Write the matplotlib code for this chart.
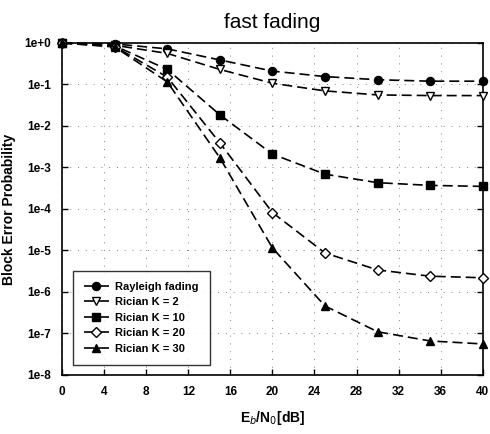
import matplotlib
matplotlib.use("Agg")
import matplotlib.pyplot as plt
import numpy as np

# data
snr_db = [0, 5, 10, 15, 20, 25, 30, 35, 40]
rayleigh = [1.0, 0.95, 0.72, 0.39, 0.21, 0.155, 0.13, 0.12, 0.12]
rician_k2 = [1.0, 0.88, 0.56, 0.23, 0.107, 0.07, 0.056, 0.054, 0.054]
rician_k10 = [1.0, 0.85, 0.23, 0.0185, 2.1e-3, 6.9e-4, 4.3e-4, 3.7e-4, 3.5e-4]
rician_k20 = [1.0, 0.82, 0.15, 3.9e-3, 8.2e-5, 8.7e-6, 3.4e-6, 2.4e-6, 2.2e-6]
rician_k30 = [1.0, 0.80, 0.115, 1.7e-3, 1.15e-5, 4.6e-7, 1.1e-7, 6.6e-8, 5.6e-8]

series_names = ["Rayleigh fading", "Rician K = 2", "Rician K = 10",
                "Rician K = 20", "Rician K = 30"]
x_ticks = [0, 4, 8, 12, 16, 20, 24, 28, 32, 36, 40]
y_ticks = [1e0, 1e-1, 1e-2, 1e-3, 1e-4, 1e-5, 1e-6, 1e-7, 1e-8]
y_tick_labels = ["1e+0", "1e-1", "1e-2", "1e-3", "1e-4",
                 "1e-5", "1e-6", "1e-7", "1e-8"]

plt.rcParams["font.family"] = ["Liberation Sans", "DejaVu Sans"]

fig = plt.figure(figsize=(4.9, 4.34), dpi=100)
ax = fig.add_axes([0.127, 0.136, 0.858, 0.765])

styles = [("o", "black"), ("v", "white"), ("s", "black"), ("D", "white"), ("^", "black")]
sizes = [5.8, 6, 5.5, 5.2, 6]
all_series = [rayleigh, rician_k2, rician_k10, rician_k20, rician_k30]
for vals, name, (mk, face), ms in zip(all_series, series_names, styles, sizes):
    ax.plot(snr_db, vals, color="black", linestyle=(0, (6, 3)), linewidth=1.2,
            marker=mk, markersize=ms, markerfacecolor=face,
            markeredgecolor="black", markeredgewidth=1.0, label=name,
            clip_on=False, zorder=3)

ax.set_yscale("log")
ax.set_xlim(0, 40)
ax.set_ylim(1e-8, 1e0)
ax.set_xticks(x_ticks)
ax.set_xticklabels([str(t) for t in x_ticks])
ax.set_yticks(y_ticks)
ax.set_yticklabels(y_tick_labels)
ax.minorticks_off()
ax.tick_params(direction="in", length=4, width=1, right=True, top=False,
               labelsize=8.5, pad=8)
for lbl in ax.get_xticklabels() + ax.get_yticklabels():
    lbl.set_fontweight("bold")
ax.grid(True, linestyle=(0, (1, 7)), color="0.5", linewidth=0.7)
for sp in ax.spines.values():
    sp.set_linewidth(1.2)

ax.set_title("fast fading", fontsize=15, pad=11)
ax.set_xlabel("E$_b$/N$_0$[dB]", fontsize=10, fontweight="bold", labelpad=8)
ax.set_ylabel("Block Error Probability", fontsize=10, fontweight="bold", labelpad=6)

leg = ax.legend(loc="lower left", bbox_to_anchor=(0.026, 0.03), borderaxespad=0,
                frameon=True, fancybox=False, edgecolor="black",
                handlelength=2.2, handletextpad=0.6, borderpad=1.0,
                labelspacing=0.5, prop={"weight": "bold", "size": 8})
leg.get_frame().set_linewidth(1.0)

fig.savefig("out.png", dpi=100)
